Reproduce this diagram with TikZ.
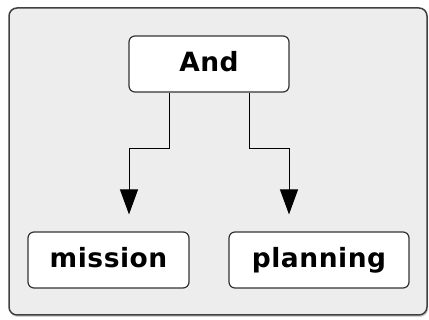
\documentclass[tikz,border=0pt]{standalone}
\usepackage{fontspec}
\setmainfont{DejaVu Sans}[LetterSpace=2]
\usetikzlibrary{positioning,arrows.meta,shadows}

\begin{document}
\begin{tikzpicture}[x=1pt,y=-1pt,
  box/.style={draw=black!80, fill=white, rounded corners=6pt, line width=1.2pt,
    inner sep=0pt, minimum height=56pt, text height=20pt, text depth=4pt,
    font=\bfseries\fontsize{26.5}{30}\selectfont},
  link/.style={line width=1pt, shorten >=17pt, -{Triangle[width=18pt,length=25pt]}}]
\useasboundingbox (0,0) rectangle (429,320);
\draw[fill=black!7, draw=black!75, line width=1.5pt, rounded corners=8pt,
  drop shadow={shadow xshift=1pt, shadow yshift=-2pt, opacity=0.35}]
  (9,8) rectangle (427,315);

\node[box, minimum width=160pt] (and) at (209,64) {And};
\node[box, minimum width=161pt] (mission) at (108.5,260) {mission};
\node[box, minimum width=180pt] (planning) at (319,260) {planning};

\draw[link] ([xshift=-40pt]and.south) -- ++(0,56) -| ([xshift=20.5pt]mission.north);
\draw[link] ([xshift=40pt]and.south) -- ++(0,56) -| ([xshift=-30pt]planning.north);
\end{tikzpicture}
\end{document}
